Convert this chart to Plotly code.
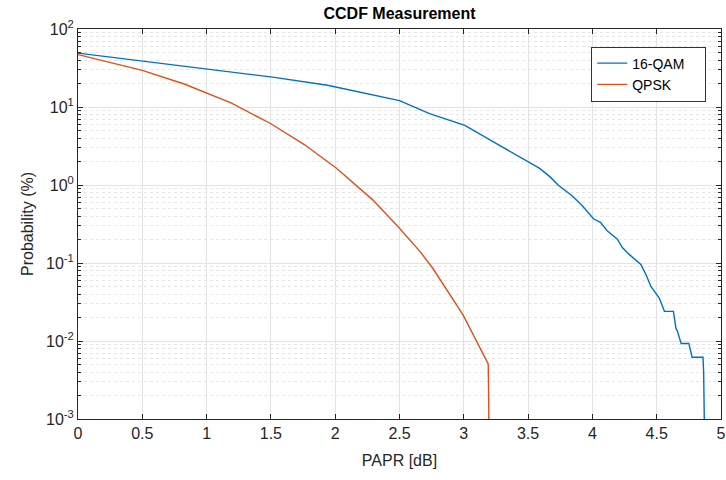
import plotly.graph_objects as go

# 16-QAM CCDF (PAPR in dB, probability in %)
qam16_x = [0, 0.5, 1.0, 1.5, 1.94, 2.5, 2.734, 3.008, 3.254, 3.508, 3.59, 3.669,
           3.735, 3.84, 3.92, 4.01, 4.063, 4.115, 4.194, 4.233, 4.286, 4.377,
           4.417, 4.455, 4.52, 4.56, 4.63, 4.65, 4.66, 4.69, 4.75, 4.775, 4.86,
           4.865, 4.87]
qam16_y = [49, 38.9, 30.9, 24.3, 19.0, 12.05, 8.2, 5.8, 3.39, 1.93, 1.63, 1.28,
           0.99, 0.733, 0.546, 0.366, 0.332, 0.259, 0.202, 0.158, 0.129, 0.0955,
           0.0708, 0.050, 0.0355, 0.024, 0.024, 0.0145, 0.0135, 0.0093, 0.0093,
           0.0062, 0.0062, 0.004, 0.001]

# QPSK CCDF
qpsk_x = [0, 0.5, 0.826, 1.0, 1.19, 1.5, 1.76, 2.01, 2.294, 2.5, 2.66, 2.76,
          2.995, 3.19, 3.195]
qpsk_y = [47, 29.5, 19.7, 15.1, 11.3, 6.1, 3.3, 1.64, 0.64, 0.279, 0.14, 0.085,
          0.0215, 0.0051, 0.001]

series_names = ["16-QAM", "QPSK"]
x_ticks = [0, 0.5, 1, 1.5, 2, 2.5, 3, 3.5, 4, 4.5, 5]
x_ticktext = ["0", "0.5", "1", "1.5", "2", "2.5", "3", "3.5", "4", "4.5", "5"]
y_ticks = [1e-3, 1e-2, 1e-1, 1, 10, 100]
y_ticktext = ["10<sup>-3</sup>", "10<sup>-2</sup>", "10<sup>-1</sup>",
              "10<sup>0</sup>", "10<sup>1</sup>", "10<sup>2</sup>"]
y_minor = [m * d for d in [1e-3, 1e-2, 1e-1, 1, 10] for m in range(2, 10)]

pad = "\u00a0" * 4
fig = go.Figure()
fig.add_trace(go.Scatter(x=qam16_x, y=qam16_y, mode="lines", name=series_names[0] + pad,
                         line=dict(color="#0072BD", width=1.4)))
fig.add_trace(go.Scatter(x=qpsk_x, y=qpsk_y, mode="lines", name=series_names[1] + pad,
                         line=dict(color="#D95319", width=1.4)))

axis_color = "#262626"
fig.update_layout(
    width=726, height=480,
    margin=dict(l=78, r=5, t=29, b=61),
    paper_bgcolor="white", plot_bgcolor="white",
    font=dict(family="Liberation Sans, Arial, sans-serif", color=axis_color, size=16),
    title=dict(text="<b>CCDF Measurement</b>", x=0.5, xanchor="center",
               xref="paper", y=0.983, yanchor="top",
               font=dict(size=16, color="#000000")),
    showlegend=True,
    legend=dict(x=0.977, y=0.955, xanchor="right", yanchor="top",
                bgcolor="white", bordercolor="#333333", borderwidth=1,
                font=dict(size=14, color="#000000"),
                tracegroupgap=0, itemwidth=30),
)
fig.update_xaxes(
    range=[0, 5], tickmode="array", tickvals=x_ticks, ticktext=x_ticktext,
    showline=True, linecolor=axis_color, linewidth=1, mirror="ticks",
    ticks="inside", ticklen=5, tickcolor=axis_color, automargin=False,
    showgrid=True, gridcolor="#e3e3e3", gridwidth=1, zeroline=False,
    title=dict(text="PAPR [dB]", font=dict(size=16), standoff=13),
)
fig.update_yaxes(
    type="log", range=[-3, 2], tickmode="array", tickvals=y_ticks, ticktext=y_ticktext,
    showline=True, linecolor=axis_color, linewidth=1, mirror="ticks",
    ticks="inside", ticklen=5, tickcolor=axis_color, automargin=False,
    showgrid=True, gridcolor="#e3e3e3", gridwidth=1, zeroline=False,
    minor=dict(tickmode="array", tickvals=y_minor, ticks="inside", ticklen=3,
               tickcolor=axis_color, showgrid=True,
               gridcolor="#e6e6e6", griddash="dot", gridwidth=1),
    title=dict(text="Probability (%)", font=dict(size=16), standoff=8),
)

fig.write_html("out.html")
